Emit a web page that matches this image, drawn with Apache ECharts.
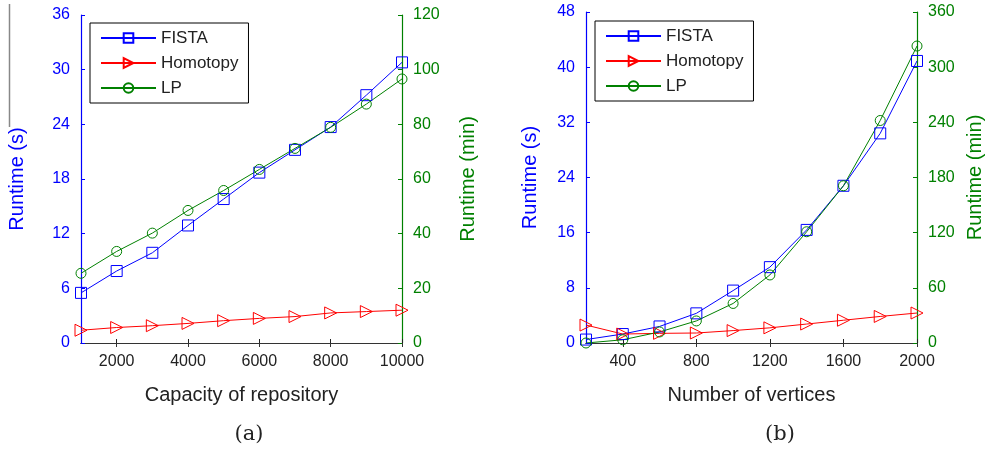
<!DOCTYPE html>
<html>
<head>
<meta charset="utf-8">
<script src="https://cdn.jsdelivr.net/npm/echarts@6/dist/echarts.min.js"></script>
<style>
  html, body { margin: 0; padding: 0; background: #fff; }
  #chart { width: 987px; height: 449px; }
</style>
</head>
<body>
<div id="chart"></div>
<script>
// (a) runtime vs capacity of repository
const capacity = [1000, 2000, 3000, 4000, 5000, 6000, 7000, 8000, 9000, 10000];
const fistaA = [5.5, 7.9, 9.9, 12.9, 15.8, 18.7, 21.2, 23.7, 27.2, 30.8];   // s
const homotopyA = [1.4, 1.7, 1.9, 2.15, 2.45, 2.7, 2.9, 3.3, 3.45, 3.6];  // s
const lpA = [25.5, 33.5, 40.2, 48.5, 55.8, 63.5, 71.2, 78.9, 87.4, 96.6]; // min

// (b) runtime vs number of vertices
const vertices = [200, 400, 600, 800, 1000, 1200, 1400, 1600, 1800, 2000];
const fistaB = [0.5, 1.3, 2.4, 4.3, 7.6, 11.0, 16.4, 22.8, 30.4, 40.9];     // s
const homotopyB = [2.6, 1.3, 1.4, 1.45, 1.8, 2.2, 2.75, 3.3, 3.85, 4.35]; // s
const lpB = [0, 3.5, 12, 24, 43, 74, 121, 171, 242, 323];                 // min

const xTicksA = [2000, 4000, 6000, 8000, 10000];
const xTicksB = [400, 800, 1200, 1600, 2000];

const BLUE = "#0000ff", RED = "#ff0000", GREEN = "#008000";
const FONT = "Liberation Sans, Arial, sans-serif";
const SERIF = "DejaVu Serif, Liberation Serif, serif";

const chart = echarts.init(document.getElementById("chart"));

function pairs(xs, ys) {
  return xs.map((x, i) => [x, ys[i]]);
}

function xAxes(gridIndex, min, max, ticks, name) {
  return [
    {
      gridIndex, type: "value", min, max, position: "bottom",
      name, nameLocation: "middle", nameGap: 42,
      nameTextStyle: { color: "#222", fontSize: 20, fontFamily: FONT },
      axisLine: { lineStyle: { color: "#222", width: 1.2 } },
      axisTick: { inside: true, length: 4, customValues: ticks, lineStyle: { color: "#222" } },
      axisLabel: { customValues: ticks, formatter: v => String(v), color: "#222", fontSize: 16, fontFamily: FONT, margin: 11 },
      splitLine: { show: false }
    },
    {
      gridIndex, type: "value", min, max, position: "top",
      axisLine: { lineStyle: { color: "#333", width: 1.2 } },
      axisTick: { inside: true, length: 4, customValues: ticks, lineStyle: { color: "#333" } },
      axisLabel: { show: false },
      splitLine: { show: false }
    }
  ];
}

function yAxis(gridIndex, position, max, interval, color, name, nameGap) {
  return {
    gridIndex, type: "value", position, min: 0, max, interval,
    name, nameLocation: "middle", nameGap, nameRotate: 90,
    nameTextStyle: { color, fontSize: 20, fontFamily: FONT },
    axisLine: { show: true, lineStyle: { color, width: 1.2 } },
    axisTick: { show: true, inside: true, length: 4, lineStyle: { color } },
    axisLabel: { color, fontSize: 16, fontFamily: FONT, margin: 11 },
    splitLine: { show: false }
  };
}

function series(name, xi, yi, data, color, symbol, size, rotate) {
  return {
    name, type: "line", xAxisIndex: xi, yAxisIndex: yi, data,
    symbol, symbolSize: size, symbolRotate: rotate || 0,
    showAllSymbol: true,
    lineStyle: { color, width: 1 },
    itemStyle: { color: "rgba(255,255,255,0)", borderColor: color, borderWidth: 1 },
    emphasis: { disabled: true },
    animation: false
  };
}

function legend(left, top) {
  return {
    left, top, orient: "vertical",
    data: ["FISTA", "Homotopy", "LP"],
    backgroundColor: "#fff",
    borderColor: "#000", borderWidth: 1,
    padding: [5, 10, 5, 10],
    itemWidth: 55, itemHeight: 12, itemGap: 5,
    textStyle: { color: "#222", fontSize: 17, lineHeight: 20, fontFamily: FONT }
  };
}

chart.setOption({
  animation: false,
  title: [
    { text: "(a)", left: 244, top: 419, textAlign: "center",
      textStyle: { fontFamily: SERIF, fontWeight: "normal", fontSize: 21, color: "#222" } },
    { text: "(b)", left: 775, top: 419, textAlign: "center",
      textStyle: { fontFamily: SERIF, fontWeight: "normal", fontSize: 21, color: "#222" } }
  ],
  graphic: [
    { type: "line", shape: { x1: 9.5, y1: 4, x2: 9.5, y2: 127 }, style: { stroke: "#888", lineWidth: 1.5 } }
  ],
  grid: [
    { left: 81, top: 15, width: 321, bottom: 106 },
    { left: 586, top: 12, width: 331, bottom: 106 }
  ],
  legend: [legend(90, 23), legend(595, 21)],
  xAxis: [
    ...xAxes(0, 1000, 10000, xTicksA, "Capacity of repository"),
    ...xAxes(1, 200, 2000, xTicksB, "Number of vertices")
  ],
  yAxis: [
    yAxis(0, "left", 36, 6, BLUE, "Runtime (s)", 54),
    yAxis(0, "right", 120, 20, GREEN, "Runtime (min)", 56),
    yAxis(1, "left", 48, 8, BLUE, "Runtime (s)", 46),
    yAxis(1, "right", 360, 60, GREEN, "Runtime (min)", 48)
  ],
  series: [
    series("FISTA", 0, 0, pairs(capacity, fistaA), BLUE, "rect", 11),
    series("Homotopy", 0, 0, pairs(capacity, homotopyA), RED, "triangle", 12, -90),
    series("LP", 0, 1, pairs(capacity, lpA), GREEN, "circle", 10),
    series("FISTA", 2, 2, pairs(vertices, fistaB), BLUE, "rect", 11),
    series("Homotopy", 2, 2, pairs(vertices, homotopyB), RED, "triangle", 12, -90),
    series("LP", 2, 3, pairs(vertices, lpB), GREEN, "circle", 10)
  ]
});
</script>
</body>
</html>
